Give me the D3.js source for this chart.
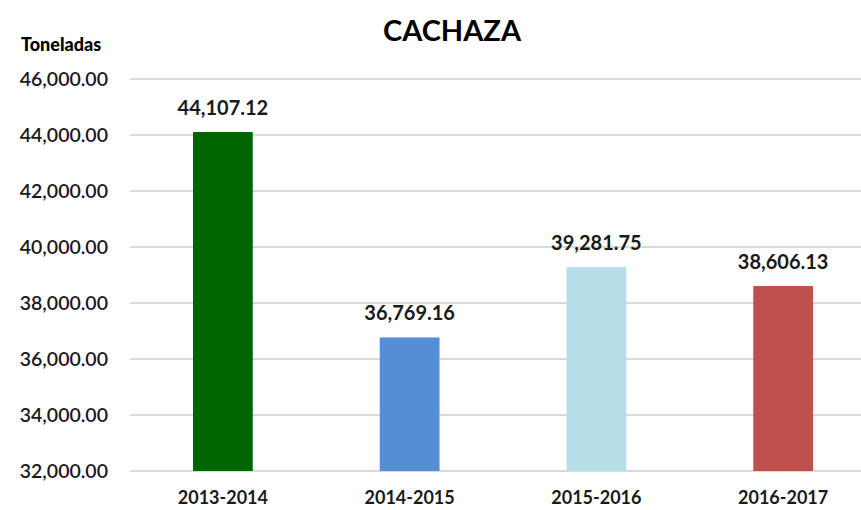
<!DOCTYPE html>
<html>
<head>
    <script src="https://d3js.org/d3.v7.min.js"></script>
    <style>
        body { margin: 0; background: #fff; }
        text { font-family: Lato, "Open Sans", sans-serif; fill: #1a1a1a; }
    </style>
</head>
<body>
    <script>
        var categories = ["2013-2014", "2014-2015", "2015-2016", "2016-2017"];
        var values = [44107.12, 36769.16, 39281.75, 38606.13];
        var colors = ["#006400", "#558ed5", "#b7dde8", "#c0504d"];
        var yTicks = [32000, 34000, 36000, 38000, 40000, 42000, 44000, 46000];

        var width = 861, height = 510;
        var svg = d3.select("body").append("svg")
            .attr("width", width)
            .attr("height", height);

        var fmt = d3.format(",.2f");

        var x = d3.scaleBand()
            .domain(categories)
            .range([129.5, 876.5])
            .paddingInner(0.68)
            .paddingOuter(0.34);

        var y = d3.scaleLinear()
            .domain([32000, 46000])
            .range([471, 79]);

        // gridlines
        svg.append("g")
            .selectAll("line")
            .data(yTicks)
            .enter().append("line")
            .attr("x1", 130)
            .attr("x2", width)
            .attr("y1", function(d) { return y(d); })
            .attr("y2", function(d) { return y(d); })
            .attr("stroke", "#d9d9d9")
            .attr("stroke-width", 2);

        // y tick labels
        svg.append("g")
            .selectAll("text")
            .data(yTicks)
            .enter().append("text")
            .attr("x", 108)
            .attr("y", function(d) { return y(d); })
            .attr("dy", "0.35em")
            .attr("text-anchor", "end")
            .style("font-size", "19.5px")
            .style("font-weight", "600")
            .text(function(d) { return fmt(d); });

        // bars
        svg.append("g")
            .selectAll("rect")
            .data(values)
            .enter().append("rect")
            .attr("x", function(d, i) { return x(categories[i]); })
            .attr("width", x.bandwidth())
            .attr("y", function(d) { return y(d); })
            .attr("height", function(d) { return y(32000) - y(d); })
            .attr("fill", function(d, i) { return colors[i]; });

        // value labels
        svg.append("g")
            .selectAll("text")
            .data(values)
            .enter().append("text")
            .attr("x", function(d, i) { return x(categories[i]) + x.bandwidth() / 2; })
            .attr("y", function(d) { return y(d) - 17; })
            .attr("text-anchor", "middle")
            .style("font-size", "20px")
            .style("font-weight", "bold")
            .text(function(d) { return fmt(d); });

        // category labels
        svg.append("g")
            .selectAll("text")
            .data(categories)
            .enter().append("text")
            .attr("x", function(d) { return x(d) + x.bandwidth() / 2; })
            .attr("y", 504)
            .attr("text-anchor", "middle")
            .style("font-size", "18px")
            .style("font-weight", "bold")
            .text(function(d) { return d; });

        svg.append("text")
            .attr("x", 452)
            .attr("y", 41)
            .attr("text-anchor", "middle")
            .style("font-size", "29px")
            .style("font-weight", "bold")
            .style("fill", "#000")
            .text("CACHAZA");

        svg.append("text")
            .attr("x", 21)
            .attr("y", 51)
            .style("font-size", "18px")
            .style("font-weight", "900")
            .style("fill", "#000")
            .text("Toneladas");
    </script>
</body>
</html>
